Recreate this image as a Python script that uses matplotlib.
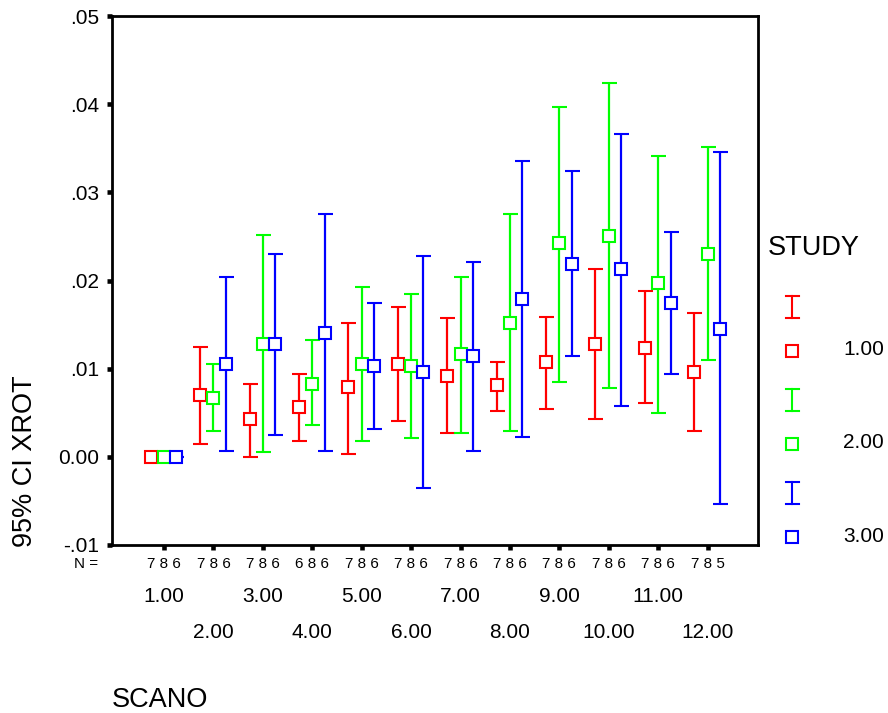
import matplotlib
matplotlib.use("Agg")
import matplotlib.pyplot as plt
from matplotlib.lines import Line2D
import matplotlib.transforms as mtransforms

plt.rcParams['font.family'] = ['Liberation Sans', 'DejaVu Sans']

# ---- data ----
scano = [1, 2, 3, 4, 5, 6, 7, 8, 9, 10, 11, 12]
scano_labels = ["1.00", "2.00", "3.00", "4.00", "5.00", "6.00",
                "7.00", "8.00", "9.00", "10.00", "11.00", "12.00"]
n_labels = ["7 8 6", "7 8 6", "7 8 6", "6 8 6", "7 8 6", "7 8 6",
            "7 8 6", "7 8 6", "7 8 6", "7 8 6", "7 8 6", "7 8 5"]
study_labels = ["1.00", "2.00", "3.00"]
study_colors = ["#ff0000", "#00ff00", "#0000ff"]

red_mean = [0, 0.0070, 0.0043, 0.0056, 0.0079, 0.0105, 0.0092, 0.0081, 0.0107, 0.0128, 0.0123, 0.0096]
red_low = [0, 0.0014, 0.0000, 0.0018, 0.0003, 0.0041, 0.0027, 0.0052, 0.0054, 0.0043, 0.0061, 0.0029]
red_high = [0, 0.0125, 0.0083, 0.0094, 0.0152, 0.0170, 0.0157, 0.0107, 0.0159, 0.0213, 0.0188, 0.0163]

green_mean = [0, 0.0067, 0.0128, 0.0083, 0.0105, 0.0103, 0.0117, 0.0152, 0.0242, 0.0250, 0.0197, 0.0230]
green_low = [0, 0.0029, 0.0005, 0.0036, 0.0018, 0.0021, 0.0027, 0.0029, 0.0085, 0.0078, 0.0050, 0.0110]
green_high = [0, 0.0105, 0.0252, 0.0132, 0.0193, 0.0185, 0.0204, 0.0275, 0.0397, 0.0424, 0.0341, 0.0351]

blue_mean = [0, 0.0105, 0.0128, 0.0141, 0.0103, 0.0096, 0.0114, 0.0179, 0.0219, 0.0213, 0.0174, 0.0145]
blue_low = [0, 0.0007, 0.0025, 0.0007, 0.0032, -0.0035, 0.0007, 0.0023, 0.0114, 0.0058, 0.0094, -0.0053]
blue_high = [0, 0.0204, 0.0230, 0.0275, 0.0174, 0.0228, 0.0221, 0.0335, 0.0324, 0.0366, 0.0255, 0.0346]

yticks = [-0.01, 0.0, 0.01, 0.02, 0.03, 0.04, 0.05]
ytick_labels = ["-.01", "0.00", ".01", ".02", ".03", ".04", ".05"]

series = [(red_mean, red_low, red_high),
          (green_mean, green_low, green_high),
          (blue_mean, blue_low, blue_high)]
offsets = [-0.27, 0.0, 0.25]

# ---- figure ----
W, H = 888, 713
fig = plt.figure(figsize=(W / 100, H / 100), dpi=100)
ax = fig.add_axes([112 / W, 1 - 545 / H, (758 - 112) / W, (545 - 16) / H])

for (m, lo, hi), off, col in zip(series, offsets, study_colors):
    xs = [s + off for s in scano]
    yerr = [[mm - l for mm, l in zip(m, lo)], [h - mm for mm, h in zip(m, hi)]]
    ax.errorbar(xs, m, yerr=yerr, fmt='s', color=col, ecolor=col,
                mfc='white', mec=col, ms=9.3, mew=1.5, elinewidth=1.6,
                capsize=5.4, capthick=1.6, zorder=3)

ax.set_xlim(-0.053, 13.02)
ax.set_ylim(-0.01, 0.05)
ax.set_yticks(yticks)
ax.set_yticklabels(ytick_labels, fontsize=15)
ax.set_xticks(scano)
ax.set_xticklabels([])
ax.tick_params(axis='both', direction='out', length=3.5, width=3.3, color='black')
ax.tick_params(axis='y', pad=6)
for sp in ax.spines.values():
    sp.set_linewidth(2)
    sp.set_color('black')

# category labels (staggered), N labels
trans = mtransforms.blended_transform_factory(ax.transData, fig.transFigure)
for i, (s, lab, nl) in enumerate(zip(scano, scano_labels, n_labels)):
    ax.text(s, 1 - 564 / H, nl, transform=trans, ha='center', va='center',
            fontsize=11, clip_on=False)
    yrow = 597 if i % 2 == 0 else 632
    ax.text(s, 1 - yrow / H, lab, transform=trans, ha='center', va='center',
            fontsize=15, clip_on=False)
fig.text(98 / W, 1 - 564 / H, "N =", ha='right', va='center', fontsize=11)

fig.text(25 / W, 1 - 461 / H, "95% CI XROT", rotation=90, ha='center',
         va='center', fontsize=19.5)
fig.text(112 / W, 1 - 700 / H, "SCANO", ha='left', va='center', fontsize=19.5)

# legend
fig.text(768 / W, 1 - 248 / H, "STUDY", ha='left', va='center', fontsize=19.5)
def px(x, y):
    return x / W, 1 - y / H
for k, (col, lab) in enumerate(zip(study_colors, study_labels)):
    ybar = 307 + k * 93
    ysq = 351 + k * 93
    cx = 792
    for (xa, ya), (xb, yb) in [((cx, ybar - 11), (cx, ybar + 11)),
                               ((cx - 6.5, ybar - 11), (cx + 6.5, ybar - 11)),
                               ((cx - 6.5, ybar + 11), (cx + 6.5, ybar + 11))]:
        p1, p2 = px(xa, ya), px(xb, yb)
        fig.add_artist(Line2D([p1[0], p2[0]], [p1[1], p2[1]], color=col, lw=1.5))
    p = px(cx, ysq)
    fig.add_artist(Line2D([p[0]], [p[1]], marker='s', ms=9, mfc='white',
                          mec=col, mew=1.5, ls='none'))
    fig.text(843 / W, 1 - (ysq - 1) / H, lab, ha='left', va='center', fontsize=15)

fig.savefig("out.png", dpi=100)
